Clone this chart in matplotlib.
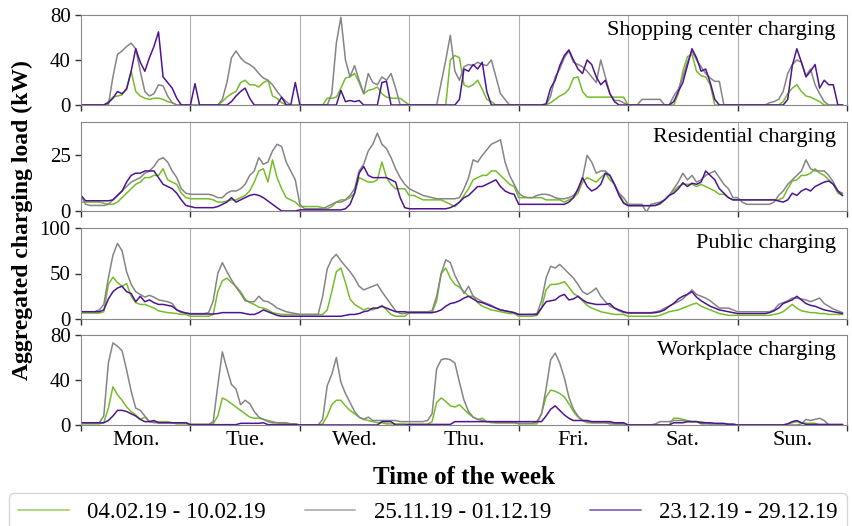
import numpy as np
import matplotlib
matplotlib.use("Agg")
import matplotlib.pyplot as plt

plt.rcParams['font.family'] = ['Liberation Serif', 'DejaVu Serif']

days = ['Mon.', 'Tue.', 'Wed.', 'Thu.', 'Fri.', 'Sat.', 'Sun.']
weeks = ['04.02.19 - 10.02.19', '25.11.19 - 01.12.19', '23.12.19 - 29.12.19']
titles = ['Shopping center charging', 'Residential charging',
          'Public charging', 'Workplace charging']

# hourly aggregated load (kW), one row per day Mon..Sun
shop_feb = [
    0, 0, 0, 0, 0, 0, 3, 7, 8, 9, 15, 30, 12, 8, 6, 5, 6, 6, 5, 3, 2, 0, 0, 0,
    0, 0, 0, 0, 0, 0, 0, 3, 7, 10, 12, 20, 22, 18, 18, 16, 20, 22, 8, 6, 2, 0, 0, 0,
    0, 0, 0, 0, 0, 0, 6, 6, 7, 15, 24, 25, 28, 20, 10, 13, 14, 16, 10, 7, 6, 6, 6, 3,
    0, 0, 0, 0, 0, 0, 0, 0, 0, 40, 44, 42, 18, 16, 18, 22, 14, 5, 3, 0, 0, 0, 0, 0,
    0, 0, 0, 0, 0, 0, 0, 2, 5, 8, 10, 14, 24, 25, 12, 7, 7, 7, 7, 7, 7, 7, 7, 7,
    0, 0, 0, 0, 0, 0, 0, 0, 0, 0, 0, 10, 30, 43, 45, 30, 26, 25, 18, 0, 0, 0, 0, 0,
    0, 0, 0, 0, 0, 0, 0, 0, 0, 0, 3, 10, 15, 18, 12, 8, 7, 5, 3, 0, 0, 0, 0, 0,
]
shop_nov = [
    0, 0, 0, 0, 0, 0, 0, 25, 45, 48, 52, 55, 50, 30, 12, 8, 10, 18, 17, 8, 2, 0, 0, 0,
    0, 0, 0, 0, 0, 0, 0, 5, 20, 42, 48, 42, 38, 36, 33, 28, 24, 22, 18, 12, 7, 3, 0, 0,
    0, 0, 0, 0, 0, 0, 0, 10, 55, 78, 40, 25, 35, 22, 10, 28, 20, 18, 25, 22, 28, 15, 0, 0,
    0, 0, 0, 0, 0, 0, 0, 20, 40, 62, 30, 22, 34, 36, 35, 38, 36, 35, 40, 25, 10, 5, 0, 0,
    0, 0, 0, 0, 0, 0, 0, 8, 25, 32, 42, 48, 38, 36, 34, 30, 25, 20, 40, 25, 10, 4, 4, 2,
    0, 0, 0, 5, 5, 5, 5, 5, 0, 0, 8, 14, 25, 38, 48, 40, 34, 28, 24, 21, 21, 0, 0, 0,
    0, 0, 0, 0, 0, 0, 0, 2, 3, 5, 12, 28, 36, 40, 38, 26, 32, 18, 10, 3, 0, 0, 0, 0,
]
shop_dec = [
    0, 0, 0, 0, 0, 0, 2, 6, 12, 10, 14, 30, 50, 38, 30, 42, 52, 65, 25, 20, 15, 6, 0, 0,
    0, 19, 0, 0, 0, 0, 0, 0, 0, 3, 8, 12, 15, 6, 0, 0, 0, 0, 0, 0, 7, 0, 0, 20,
    0, 0, 0, 0, 0, 0, 0, 0, 0, 13, 3, 4, 3, 4, 0, 0, 0, 0, 20, 21, 0, 0, 0, 0,
    0, 0, 0, 0, 0, 0, 0, 0, 0, 0, 0, 5, 32, 30, 36, 32, 38, 12, 0, 0, 0, 0, 0, 0,
    0, 0, 0, 0, 0, 0, 1, 15, 22, 35, 44, 49, 40, 32, 28, 40, 36, 25, 18, 22, 10, 3, 0, 0,
    0, 0, 0, 0, 0, 0, 0, 0, 0, 0, 3, 12, 20, 35, 50, 42, 30, 32, 20, 5, 0, 0, 0, 0,
    0, 0, 0, 0, 0, 0, 0, 0, 0, 0, 0, 5, 35, 50, 38, 25, 30, 36, 15, 22, 18, 18, 0, 0,
]

res_feb = [
    4, 4, 4, 4, 4, 3.5, 3, 3, 4, 6, 8, 10, 12, 13, 15, 15, 16, 16, 19, 14, 13, 12, 8, 6,
    5.5, 5.5, 5.5, 5.5, 5.5, 5, 4, 4, 4.5, 5, 5, 6, 7, 9, 13, 18, 19, 13, 23, 15, 10, 6, 5, 4,
    2, 2, 2, 2, 2, 1.5, 1, 2, 4, 5, 5, 6, 8, 15, 14, 13, 13, 14, 22, 15, 12, 10, 10, 10,
    7, 7, 6, 5, 5, 5, 5, 5, 4, 3, 2, 4, 7, 10, 14, 15, 16, 16, 18, 18, 16, 14, 12, 11,
    6, 6, 6, 6, 6, 6, 5, 5, 5, 5, 4, 5, 6, 8, 13, 15, 14, 13, 15, 17, 14, 12, 8, 4,
    2.4, 2.4, 2.4, 2.4, 2.4, 2.4, 2.5, 3, 5, 7, 9, 11, 12, 12, 12, 11, 12, 11, 10, 9, 7.5, 7.5, 6, 5,
    5, 5, 5, 5, 5, 5, 5, 5, 5, 5, 6, 10, 13.5, 14, 16, 16, 17, 19, 17, 16, 14, 12, 8, 7,
]
res_nov = [
    7, 3, 2.5, 2.5, 2.5, 2.5, 3, 5, 7, 9, 11, 13, 14, 15, 17, 18, 20, 23, 24, 22, 18, 15, 10, 8,
    7.5, 7.5, 7.5, 7.5, 7.5, 7, 6, 6, 8, 9, 9, 10, 12, 16, 18, 24, 21, 22, 27, 30, 29, 22, 18, 14,
    3, 1, 1, 1, 1, 1, 2, 3, 4, 4, 5, 7, 10, 18, 21, 27, 30, 35, 30, 28, 24, 19, 15, 12,
    10, 9, 8, 7, 6.5, 6, 5.5, 5.5, 5.5, 5.5, 5.5, 6, 10, 15, 23, 22, 25, 27.5, 30, 31, 32, 22, 16, 12,
    8, 6.5, 6, 6, 7, 7.5, 7.5, 7, 6, 5.5, 5.5, 6, 7, 9, 15, 25, 22, 17, 18, 18, 16, 12, 8, 6,
    3, 3, 3, 3, -0.5, 3, 3.5, 4, 5, 7, 10, 13, 17, 14, 16, 13, 14, 16, 17, 18, 15, 12, 10, 6,
    6, 4, 3, 3, 3, 3, 3, 3, 4, 7, 9, 12, 14, 16, 18, 23, 19, 18, 18, 18, 16, 13, 9, 8,
]
res_dec = [
    7, 4.6, 4.6, 4.6, 4.6, 4.6, 4.6, 5, 7, 9, 13, 16, 17, 17, 18, 18, 18, 15, 12, 11, 10, 8, 5, 2.5,
    2, 1.5, 1.5, 1.5, 1.5, 1.5, 2, 3, 4, 6, 4, 5, 6, 7, 7.5, 7, 6, 4.5, 3, 1.5, 0, 0, 0, 0,
    0.5, 0.5, 0.5, 0.5, 0.5, 0.5, 0.5, 0.5, 0.5, 0.5, 1, 3, 8, 17, 20, 16, 15, 15, 15, 15, 14, 13, 6, 1.5,
    1, 1, 1, 1, 1, 1, 1, 1, 1, 1.5, 2.5, 4, 6, 7, 9, 11, 11, 12, 13, 14, 11, 9, 8, 7.5,
    3, 3, 3, 3, 3, 3, 3, 3, 3, 3, 3, 4, 6, 10, 15, 11, 9, 10, 12, 17, 16, 12, 7, 3.5,
    2.4, 2.4, 2.4, 2.4, 2.4, 2.4, 2.5, 3.5, 5, 7, 8, 10, 12.7, 11, 12.5, 12, 13, 18, 16, 14, 10, 8, 6, 5,
    5, 5, 5, 5, 5, 5, 5, 5, 5, 4.5, 4, 5, 8, 7, 9, 10, 9, 11, 12, 13, 13.5, 12, 9, 7,
]

pub_feb = [
    6.5, 6.5, 6.5, 6.5, 6.5, 8, 38, 46, 40, 36, 39, 25, 18, 16, 16, 14, 12, 9, 8, 7, 6.5, 6, 5, 5,
    3, 3, 3, 3, 3, 5, 30, 42, 45, 40, 36, 30, 22, 18, 16, 13, 12, 10, 7, 6, 5, 5, 5, 5,
    5, 5, 5, 5, 5, 5, 10, 30, 52, 56, 40, 22, 16, 13, 10, 12, 10, 12, 15, 10, 5, 3, 3, 3,
    7, 7, 7, 7, 7, 7, 20, 50, 56, 45, 38, 35, 30, 25, 25, 18, 14, 12, 10, 9, 8, 7, 6, 6,
    3, 3, 3, 3, 4, 12, 32, 38, 38, 39, 41, 35, 28, 25, 20, 15, 12, 10, 8, 7, 6, 5, 5, 5,
    3, 3, 3, 3, 3, 3, 3, 4, 6, 8, 9, 10, 12, 14, 16, 17.5, 14, 12, 10, 8, 6, 5, 4, 4,
    4, 4, 4, 4, 4, 4, 4, 4, 5, 6, 8, 12, 16, 12, 9, 8, 7, 7, 6, 6, 5, 5, 5, 5,
]
pub_nov = [
    8, 8, 8, 8, 10, 16, 45, 70, 83, 75, 52, 38, 30, 27, 24, 26, 24, 21, 20, 19, 17, 10, 7, 6.6,
    6, 6, 6, 6, 7, 20, 50, 62, 52, 43, 35, 28, 20, 19, 19, 25, 20, 19, 16, 12, 10, 8, 7, 6,
    5, 5, 5, 5, 5, 25, 55, 66, 71, 64, 58, 52, 45, 36, 32, 34, 36, 38, 30, 23, 16, 9, 6, 6,
    8, 8, 8, 8, 8, 9, 25, 50, 65, 62, 48, 38, 28, 36, 25, 22, 19, 17, 15, 12, 10, 9, 8, 7,
    5, 5, 5, 5, 6, 20, 45, 58, 56, 60, 55, 50, 45, 38, 30, 27, 30, 34, 25, 19, 14, 12, 9, 7,
    7, 7, 7, 7, 7, 7, 8, 9, 12, 14, 17, 19, 22, 27, 32, 27, 25, 23, 20, 16, 12, 12, 12, 10,
    8, 8, 8, 8, 8, 8, 8, 8, 10, 16, 18, 20, 23, 23, 22, 21, 19, 21, 23, 17, 14, 11, 9, 7,
]
pub_dec = [
    8, 8, 8, 8, 8, 10, 22, 30, 34, 36, 30, 28, 19, 25, 19, 21, 18, 16, 16, 15, 14, 10, 8, 6.6,
    5.5, 5.5, 5.5, 5.5, 5.5, 5.5, 6, 7, 7, 7, 7, 7, 6, 5, 5, 7, 10, 8, 6, 4, 3, 3, 3, 3,
    3, 3, 3, 3, 3, 3, 3, 3, 3, 3, 4, 5, 5, 6, 8, 9, 12, 12, 14, 12, 10, 8, 8, 8,
    7, 7, 7, 7, 7, 7, 8, 10, 14, 17, 18, 20, 23, 25, 22, 19, 18, 16, 14, 12, 10, 9, 8, 7,
    5, 5, 5, 5, 5, 12, 19, 20, 21, 25, 27, 21, 22, 25, 21, 18, 17, 16, 16, 16, 17, 12, 10, 8,
    6.6, 6.6, 6.6, 6.6, 6.6, 6.6, 7, 8, 10, 14, 17, 22, 25, 27, 30, 24, 20, 17, 14, 12, 10, 9, 8, 7,
    6, 6, 6, 6, 6, 6, 6, 7, 9, 12, 17, 19, 21, 25, 21, 17, 15, 14, 12, 10, 9, 8, 7, 6,
]

wp_feb = [
    1, 1, 1, 1, 1, 2, 15, 34, 27, 22, 16, 12, 9, 5, 7, 3, 3, 3, 3, 3, 2, 1, 1, 1,
    0.5, 0.5, 0.5, 0.5, 0.5, 1, 8, 24, 22, 19, 16, 13, 10, 7, 6, 6, 5, 4, 3, 2, 1, 1, 1, 1,
    0, 0, 0, 0, 0, 1, 8, 18, 22, 22, 17, 13, 10, 7, 5, 4, 3, 2, 2, 1, 1, 1, 1, 1,
    0.5, 0.5, 0.5, 0.5, 0.5, 3, 20, 24, 21, 17, 16, 18, 14, 10, 7, 5, 6, 3, 2, 2, 2, 2, 2, 2,
    1, 1, 1, 1, 1, 10, 25, 31, 30, 28, 25, 19, 12, 7, 4, 2, 2, 2, 2, 2, 2, 1, 1, 1,
    0, 0, 0, 0, 0, 0, 0, 0, 0, 0, 6, 6, 5, 4, 3, 3, 3, 2, 1, 1, 0.5, 0.5, 0.5, 0.5,
    0, 0, 0, 0, 0, 0, 0, 0, 0, 0, 0, 1, 2, 3, 2, 1.5, 1.5, 1.5, 0, 0, 0, 0, 0, 0,
]
wp_nov = [
    2, 2, 2, 2, 2, 8, 55, 73, 70, 66, 49, 30, 15, 13, 8, 3, 2, 2, 2, 2, 2, 2, 2, 2,
    0.5, 0.5, 0.5, 0.5, 0.5, 3, 35, 65, 50, 36, 32, 18, 22, 19, 12, 7, 5, 3, 2, 2, 2, 2, 1, 1,
    0, 0, 0, 0, 0, 5, 35, 45, 60, 38, 28, 20, 12, 7, 5, 7, 4, 4, 4, 4, 4, 4, 3, 3,
    3, 3, 3, 3, 4, 10, 50, 58, 59, 58, 55, 38, 22, 12, 7, 5, 4, 3, 3, 2, 2, 2, 2, 2,
    1.5, 1.5, 1.5, 1.5, 3, 10, 32, 58, 64, 55, 42, 25, 14, 8, 4, 3, 2, 2, 2, 2, 1, 1, 1, 1,
    0, 0, 0, 0, 0, 0, 1, 3, 3, 3, 4, 4, 4, 3, 3, 3, 1, 1, 1, 1, 1, 1, 1, 1,
    0, 0, 0, 0, 0, 0, 0, 0, 0, 0, 0, 0, 0, 0, 1, 5, 4, 5, 6, 4, 0, 0, 0, 0,
]
wp_dec = [
    2, 2, 2, 2, 2, 2, 4, 8, 13, 13, 12, 10, 8, 5, 3, 3, 4, 2, 2, 2, 2, 2, 2, 2,
    0.3, 0.3, 0.3, 0.3, 0.3, 0.3, 0.3, 0.3, 0.3, 0.3, 0.3, 1.5, 1.5, 1.5, 1.5, 1.5, 2, 0.3, 0.3, 0.3, 0.3, 0.3, 0.3, 0.3,
    0, 0, 0, 0, 0, 0, 0, 0, 0, 0, 0, 0, 0, 0, 0, 0, 0, 0, 3, 3, 3, 0, 0, 0,
    0.5, 0.5, 0.5, 0.5, 0.5, 0.5, 0.5, 0.5, 0.5, 0.5, 3, 3, 3, 3, 3, 3, 3, 3, 3, 3, 3, 3, 3, 3,
    3, 3, 3, 3, 3, 3, 8, 14, 17, 13, 9, 6, 4, 4, 4, 4, 3, 3, 3, 3, 3, 2, 2, 2,
    0, 0, 0, 0, 0, 0, 0, 0, 0, 0, 2, 2, 2, 3, 3, 3, 2, 2, 2, 1.5, 1.5, 1.5, 0.5, 0.5,
    0, 0, 0, 0, 0, 0, 0, 0, 0, 0, 0, 1, 3, 4, 2, 0.5, 0.5, 0.5, 0.5, 0.5, 0.5, 0.5, 0.5, 0.5,
]

panels = [(shop_feb, shop_nov, shop_dec), (res_feb, res_nov, res_dec),
          (pub_feb, pub_nov, pub_dec), (wp_feb, wp_nov, wp_dec)]
ylims = [80, 40, 100, 80]
yticks = [[0, 40, 80], [0, 25], [0, 50, 100], [0, 40, 80]]
colors = ['#76bd2b', '#858585', '#4f148f']

W, H = 853, 526
fig = plt.figure(figsize=(W / 100, H / 100), dpi=100)
tops = [15, 122, 228, 335]
bots = [105, 211, 319, 425]
x = np.arange(168) / 24.0

for i, series in enumerate(panels):
    ax = fig.add_axes([81 / W, 1 - bots[i] / H, (847 - 81) / W, (bots[i] - tops[i]) / H])
    for d in range(1, 7):
        ax.axvline(d, color='#b0b0b0', lw=0.8, zorder=0)
    for s, c, lab in zip(series, colors, weeks):
        ax.plot(x, s, color=c, lw=1.1, label=lab)
    ax.set_xlim(0, 7)
    ax.set_ylim(0, ylims[i])
    ax.set_yticks(yticks[i])
    ax.set_xticks(range(8))
    ax.set_xticklabels([])
    ax.set_xticks(np.arange(7) + 0.5, minor=True)
    ax.tick_params(axis='x', which='minor', length=0)
    ax.tick_params(labelsize=15, length=4, width=1, color='#333333')
    for sp in ax.spines.values():
        sp.set_color('#888888')
    ax.text(0.985, 0.93, titles[i], transform=ax.transAxes, ha='right', va='top',
            fontsize=16)
    if i == 3:
        ax.set_xticklabels(days, minor=True)
        ax.tick_params(axis='x', which='minor', labelsize=16, pad=4)
        handles, labels = ax.get_legend_handles_labels()

fig.text(22 / W, 1 - 220 / H, 'Aggregated charging load (kW)', rotation=90,
         ha='center', va='center', fontsize=17, fontweight='bold')
fig.text(464 / W, 1 - 477 / H, 'Time of the week', ha='center', va='center',
         fontsize=18, fontweight='bold')
leg = fig.legend(handles, labels, loc='lower left', ncol=3, mode='expand',
                 bbox_to_anchor=(9 / W, -0.012, 838 / W, 35 / H), fontsize=16.5,
                 handlelength=2.2, frameon=True, edgecolor='#cccccc', fancybox=True,
                 borderaxespad=0)
for ln in leg.get_lines():
    ln.set_alpha(0.75)

fig.savefig('out.png', dpi=100)
